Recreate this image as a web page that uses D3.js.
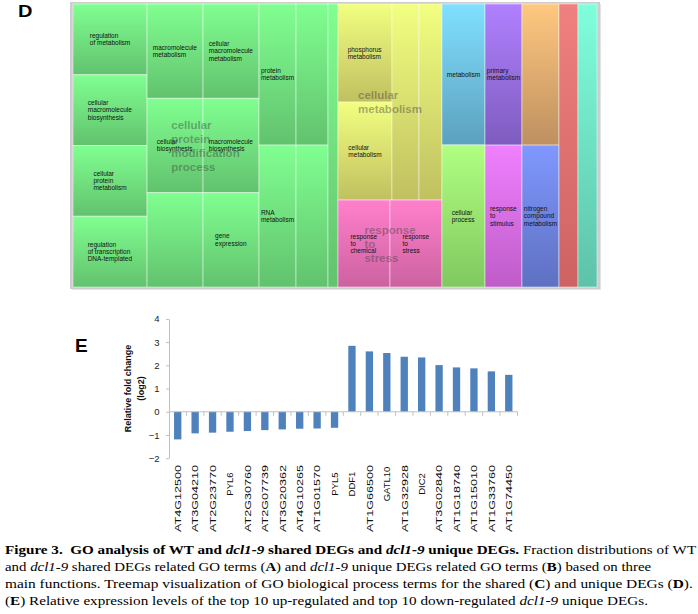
<!DOCTYPE html>
<html><head><meta charset="utf-8">
<script src="https://cdn.jsdelivr.net/npm/d3@7"></script>
<style>html,body{margin:0;padding:0;background:#fff;} svg{display:block;}</style>
</head><body><svg id="c" width="698" height="614"></svg>
<script>
// ================= DATA =================
// Panel E: relative fold change (log2)
const genes = ["AT4G12500","AT3G04210","AT2G23770","PYL6","AT2G30760","AT2G07739","AT3G20362","AT4G10265","AT1G01570","PYL5","DDF1","AT1G66500","GATL10","AT1G32928","DIC2","AT3G02840","AT1G18740","AT1G15010","AT1G33760","AT1G74450"];
const foldChange = [-1.19,-0.93,-0.90,-0.86,-0.83,-0.79,-0.76,-0.73,-0.72,-0.69,2.84,2.60,2.53,2.37,2.34,2.01,1.91,1.87,1.74,1.59];
const yTicks = [-2,-1,0,1,2,3,4];

// Panel D: treemap of GO terms (term label, size)
const protModA = [["regulation\nof metabolism",5.24],["cellular\nmacromolecule\nbiosynthesis",5.24],["cellular\nprotein\nmetabolism",5.24],["regulation\nof transcription\nDNA-templated",5.24]];
const protModB = [[["macromolecule\nmetabolism",5.28],["cellular\nmacromolecule\nmetabolism",5.28]],
                  [["cellular\nbiosynthesis",5.28],["macromolecule\nbiosynthesis",5.28]],
                  [["",5.28],["gene\nexpression",5.28]]];
const protModC = [[["protein\nmetabolism",5.22],["",4.51]],[["RNA\nmetabolism",5.25],["",4.54]]];
const protModD = [["",2.83]];
const cellMetA = [["phosphorus\nmetabolism",5.29],["cellular\nmetabolism",5.29]];
const cellMetB = [["",5.29],["",4.51]];
const respStress = [["response\nto\nchemical",4.52],["response\nto\nstress",4.52]];
const otherCols = [
  [["metabolism",6.06,"blue"],["cellular\nprocess",6.11,"lgreen"]],
  [["primary\nmetabolism",5.22,"purple"],["response\nto\nstimulus",5.25,"magenta"]],
  [["",5.22,"orange"],["nitrogen\ncompound\nmetabolism",5.25,"violet"]],
  [["",5.38,"red"]],
  [["",5.38,"teal"]]
];
const palette = {
  green:["#80FF90","#62C26E"], yellow:["#F2FF80","#C0C060"], pink:["#FF80CC","#CC62A0"],
  blue:["#80E0FF","#5CA0BE"], purple:["#B080FF","#7E5CBE"], orange:["#FFC880","#BE9060"],
  lgreen:["#B0FF80","#80C860"], magenta:["#F080FF","#BE5CC8"], violet:["#8098FF","#5E70C0"],
  red:["#F08080","#CE6262"], teal:["#80FFDC","#5EC2A8"]
};

// Caption
const captionLines = [
  [["Figure 3.  GO analysis of WT and ","b"],["dcl1-9","bi"],[" shared DEGs and ","b"],["dcl1-9","bi"],[" unique DEGs.","b"],[" Fraction distributions of WT","r"]],
  [["and ","r"],["dcl1-9","i"],[" shared DEGs related GO terms (","r"],["A","b"],[") and ","r"],["dcl1-9","i"],[" unique DEGs related GO terms (","r"],["B","b"],[") based on three","r"]],
  [["main functions. Treemap visualization of GO biological process terms for the shared (","r"],["C","b"],[") and unique DEGs (","r"],["D","b"],[").","r"]],
  [["(","r"],["E","b"],[") Relative expression levels of the top 10 up-regulated and top 10 down-regulated ","r"],["dcl1-9","i"],[" unique DEGs.","r"]]
];

// ================= DRAW =================
const svg = d3.select("#c");
const sans = "'Liberation Sans', Arial, sans-serif";
const defs = svg.append("defs");
Object.entries(palette).forEach(([k,[t,b]]) => {
  const g = defs.append("linearGradient").attr("id","g_"+k).attr("x1",0).attr("y1",0).attr("x2",0).attr("y2",1);
  g.append("stop").attr("offset","0%").attr("stop-color",t);
  g.append("stop").attr("offset","100%").attr("stop-color",b);
});

// ---- Panel D ----
svg.append("text").attr("transform","translate(18,16.7) scale(1.25,1)")
  .attr("font-family",sans).attr("font-weight","bold").attr("font-size",16).text("D");

const leaf = (c) => (d) => ({name:d[0], value:d[1], color:d[2] || c});
const treeData = {children:[
  {children:[{group:"cellular\nprotein\nmodification\nprocess", children:[
    {children: protModA.map(leaf("green"))},
    {children: protModB.map(r => ({children: r.map(leaf("green"))}))},
    {children: protModC.map(r => ({children: r.map(leaf("green"))}))},
    {children: protModD.map(leaf("green"))}
  ]}]},
  {children:[
    {group:"cellular\nmetabolism", children:[
      {children: cellMetA.map(leaf("yellow"))},
      ...cellMetB.map(leaf("yellow"))
    ]},
    {group:"response\nto\nstress", children: respStress.map(leaf("pink"))}
  ]},
  ...otherCols.map(col => ({children: col.map(leaf(null))}))
]};

const TW = 524, TH = 283, TX = 73, TY = 4;
// frame
svg.append("rect").attr("x",TX-1).attr("y",TY).attr("width",TW+5).attr("height",TH+3).attr("fill","#e4e4e4");
svg.append("rect").attr("x",TX-3).attr("y",TY-2).attr("width",TW+6).attr("height",TH+4).attr("fill","#cdcdcd");

const root = d3.hierarchy(treeData).sum(d => d.children ? 0 : d.value);
d3.treemap().tile(d3.treemapSliceDice).size([TW,TH]).round(false)(root);
const tg = svg.append("g").attr("transform",`translate(${TX},${TY})`);
const leaves = root.leaves();
tg.selectAll("rect.cell").data(leaves).join("rect").attr("class","cell")
  .attr("x",d=>d.x0).attr("y",d=>d.y0).attr("width",d=>d.x1-d.x0).attr("height",d=>d.y1-d.y0)
  .attr("fill",d=>`url(#g_${d.data.color})`)
  .attr("stroke","rgba(255,255,255,0.45)").attr("stroke-width",1);

function blockText(g, lines, cx, cy, fs, lh, attrs) {
  const t = g.append("text").attr("font-family",sans).attr("font-size",fs);
  Object.entries(attrs).forEach(([k,v]) => t.attr(k,v));
  lines.forEach((l,i) => t.append("tspan").attr("x",0).attr("y", (i - (lines.length-1)/2)*lh).attr("dy","0.35em").text(l));
  const bb = t.node().getBBox();
  t.attr("transform",`translate(${cx - bb.width/2},${cy})`);
  return t;
}
leaves.filter(d => d.data.name).forEach(d => {
  blockText(tg, d.data.name.split("\n"), (d.x0+d.x1)/2, (d.y0+d.y1)/2, 6.5, 7.3, {fill:"#111"});
});
root.descendants().filter(d => d.data.group).forEach(d => {
  blockText(tg, d.data.group.split("\n"), (d.x0+d.x1)/2, (d.y0+d.y1)/2, 11.5, 14,
    {fill:"#3a3a3a", "fill-opacity":0.42, "font-weight":"bold"});
});

// ---- Panel E ----
svg.append("text").attr("x",75).attr("y",352).attr("font-family",sans).attr("font-weight","bold").attr("font-size",19).text("E");

const x = d3.scaleBand().domain(genes).range([169,517.5]).paddingInner(0.58).paddingOuter(0.29);
const y = d3.scaleLinear().domain([-2,4]).range([458.2,318.9]);
const axisCol = "#c0c0c0";

svg.append("g").selectAll("rect").data(genes).join("rect")
  .attr("x",d=>x(d)).attr("width",x.bandwidth())
  .attr("y",(d,i)=>y(Math.max(0,foldChange[i])))
  .attr("height",(d,i)=>Math.abs(y(foldChange[i])-y(0)))
  .attr("fill","#4F81BD");

const ya = svg.append("g").attr("transform","translate(169,0)")
  .call(d3.axisLeft(y).tickValues(yTicks).tickSize(3).tickSizeOuter(0).tickPadding(6.5).tickFormat(d3.format("d")));
ya.select(".domain").attr("stroke",axisCol);
ya.selectAll(".tick line").attr("stroke",axisCol);
ya.selectAll(".tick text").attr("font-family",sans).attr("font-size",9.5).attr("fill","#222");

// x axis line at zero with boundary ticks
const xb = d3.range(genes.length+1).map(i => x.range()[0] + i*x.step());
svg.append("line").attr("x1",169).attr("x2",x.range()[1]).attr("y1",y(0)).attr("y2",y(0)).attr("stroke",axisCol);
svg.append("g").selectAll("line").data(xb.slice(1)).join("line")
  .attr("x1",d=>d).attr("x2",d=>d).attr("y1",y(0)).attr("y2",y(0)+4).attr("stroke",axisCol);

// category labels
const isLocus = g => /^AT\dG\d{5}$/.test(g);
genes.forEach(g => {
  const cx = x(g) + x.bandwidth()/2;
  const long = isLocus(g);
  const t = svg.append("text")
    .attr("transform",`translate(${cx},${long ? 465 : 484}) rotate(-90)`)
    .attr("text-anchor", long ? "end" : "middle").attr("dy","0.35em")
    .attr("font-family",sans).attr("font-size",9.5).attr("fill","#111")
    .text(g);
  if (long) t.attr("textLength",67).attr("lengthAdjust","spacingAndGlyphs");
});

// y title
[["Relative fold change",128.3],["(log2)",141]].forEach(([t,xx]) => {
  svg.append("text").attr("transform",`translate(${xx},388.5) rotate(-90)`)
    .attr("text-anchor","middle").attr("dy","0.35em")
    .attr("font-family",sans).attr("font-weight","bold").attr("font-size",9).attr("fill","#111").text(t);
});

// ---- Caption ----
const capBase = [553.5, 570.5, 587.5, 604.5];
const capWidth = [692, 647, 688, 643];
captionLines.forEach((parts, li) => {
  const t = svg.append("text").attr("x",0).attr("y",0)
    .attr("font-family","'Liberation Serif','Times New Roman',serif").attr("font-size",13.5)
    .style("white-space","pre").attr("fill","#000");
  parts.forEach(([s,st]) => {
    t.append("tspan").text(s)
      .attr("font-weight", st.includes("b") ? "bold" : "normal")
      .attr("font-style", st.includes("i") ? "italic" : "normal");
  });
  const len = t.node().getComputedTextLength();
  t.attr("transform",`translate(5,${capBase[li]}) scale(${capWidth[li]/len},1)`);
});
</script></body></html>
